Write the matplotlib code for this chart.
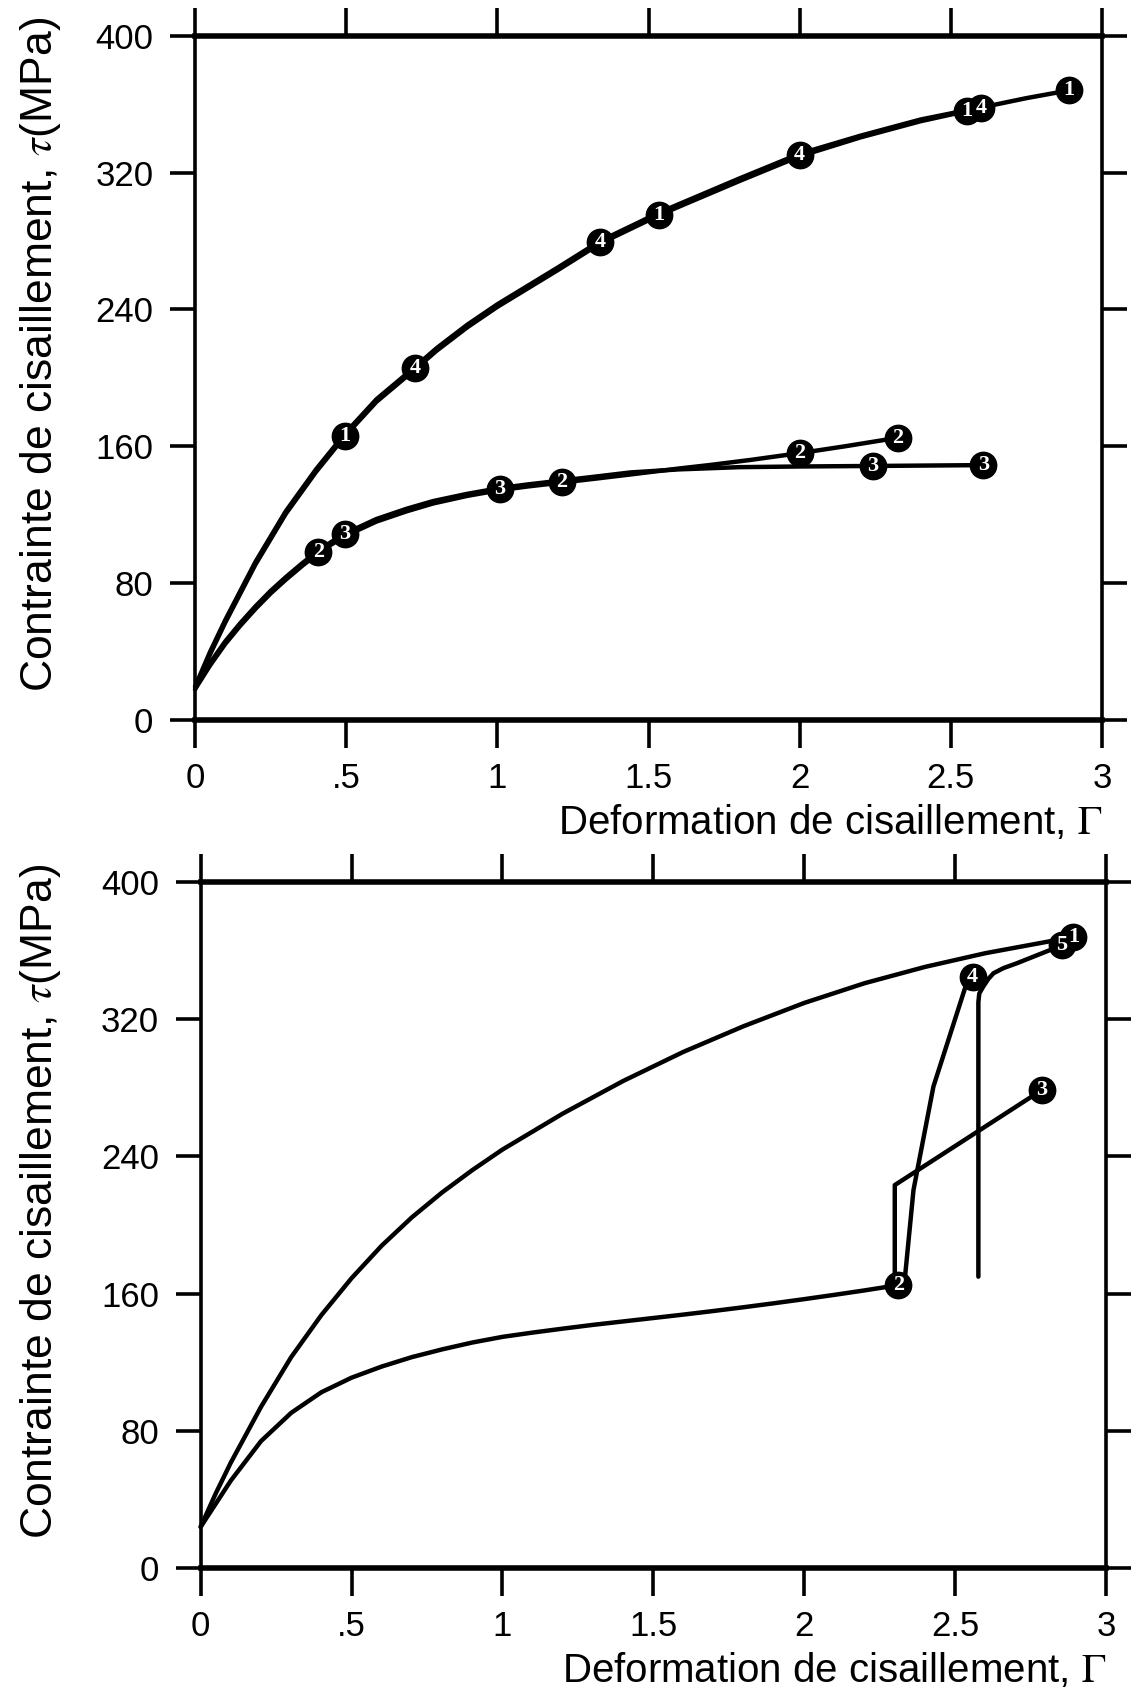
import matplotlib
matplotlib.use("Agg")
import matplotlib.pyplot as plt

plt.rcParams["mathtext.fontset"] = "stix"
plt.rcParams["font.family"] = ["Liberation Sans", "DejaVu Sans"]

# ---- top panel: curves 1..4 -------------------------------------------------------------
top_c1_x = [0, 0.05, 0.1, 0.2, 0.3, 0.4, 0.496, 0.6, 0.728, 0.8, 0.9, 1.0, 1.2, 1.34,
            1.534, 1.6, 1.8, 2.0, 2.2, 2.4, 2.554, 2.6, 2.75, 2.89]
top_c1_y = [18, 38.5, 57, 91, 120.5, 145, 166, 186, 205, 216, 229.5, 241.5, 263, 278.5,
            295, 300, 315, 329.5, 340.5, 350, 356, 358, 363.5, 368]
top_c4_x = [0, 0.05, 0.1, 0.2, 0.3, 0.4, 0.496, 0.6, 0.728, 0.8, 0.9, 1.0, 1.2, 1.34,
            1.534, 1.6, 1.8, 2.0, 2.2, 2.4, 2.554, 2.6]
top_c4_y = [19.5, 40, 58.5, 92.5, 122, 146.5, 167.5, 187.5, 206.5, 217.5, 231, 243, 264.5,
            280, 296.5, 301.5, 316.5, 331, 341.5, 351, 356.5, 358.5]
top_c2_x = [0, 0.05, 0.1, 0.149, 0.2, 0.25, 0.3, 0.357, 0.408, 0.45, 0.496, 0.6, 0.7, 0.788,
            0.9, 1.009, 1.1, 1.213, 1.33, 1.439, 1.6, 1.7, 1.836, 2.0, 2.15, 2.325]
top_c2_y = [18, 32, 44.5, 55, 65, 74, 82, 90.5, 97.5, 102.5, 107.5, 116, 122, 126.6,
            131, 134.4, 136.5, 138.8, 141.2, 143.5, 147, 149, 152, 156, 160, 165]
top_c3_x = [0, 0.05, 0.1, 0.149, 0.2, 0.25, 0.3, 0.357, 0.408, 0.45, 0.496, 0.6, 0.7, 0.788,
            0.9, 1.009, 1.1, 1.213, 1.33, 1.439, 1.6, 1.8, 2.0, 2.243, 2.607]
top_c3_y = [19.5, 33.5, 46, 56.5, 66.5, 75.5, 83.5, 92, 99, 104, 109, 117.5, 123.5, 128,
            132.2, 135.6, 137.7, 140, 142.4, 144.7, 146.5, 147.8, 148.2, 148.5, 149]

top_m1_x = [0.496, 1.534, 2.554, 2.89]
top_m1_y = [166, 295, 356, 368]
top_m4_x = [0.728, 1.34, 2.0, 2.6]
top_m4_y = [206, 279.5, 330, 358]
top_m2_x = [0.408, 1.213, 2.0, 2.325]
top_m2_y = [98.5, 139.4, 156, 165]
top_m3_x = [0.496, 1.009, 2.243, 2.607]
top_m3_y = [108.5, 135, 148.5, 149]

# ---- bottom panel -----------------------------------------------------------------------
bot_c1_x = [0, 0.05, 0.1, 0.2, 0.3, 0.4, 0.5, 0.6, 0.7, 0.8, 0.9, 1.0, 1.2, 1.4, 1.6,
            1.8, 2.0, 2.2, 2.4, 2.6, 2.8, 2.892]
bot_c1_y = [24, 43.5, 61.5, 94, 123, 147.5, 169, 188, 204.5, 219, 232, 244, 265, 284, 301,
            316, 329.5, 341, 350.5, 358.5, 365, 368.1]
bot_c2_x = [0, 0.1, 0.2, 0.3, 0.4, 0.5, 0.6, 0.7, 0.8, 0.9, 1.0, 1.1, 1.2, 1.3, 1.4, 1.5,
            1.6, 1.7, 1.8, 1.9, 2.0, 2.1, 2.2, 2.312]
bot_c2_y = [24, 51, 74, 90.5, 102.5, 111, 117.5, 123, 127.5, 131.5, 134.8, 137.3, 139.6,
            141.8, 143.8, 145.8, 147.8, 149.9, 152.1, 154.4, 156.8, 159.3, 161.9, 165]
bot_c3_x = [2.300, 2.300, 2.787]
bot_c3_y = [166, 223.3, 278.7]
bot_c4_x = [2.312, 2.334, 2.362, 2.428, 2.538, 2.558]
bot_c4_y = [165, 169.9, 220.4, 280.7, 341, 344.8]
bot_c5_x = [2.577, 2.577, 2.58, 2.593, 2.61, 2.627, 2.66, 2.704, 2.814, 2.853]
bot_c5_y = [169.9, 330, 335, 339, 343.5, 346.8, 349.8, 352.6, 360.3, 363.3]

bot_marks = [("1", 2.892, 368.1), ("5", 2.853, 363.3), ("2", 2.312, 165),
             ("3", 2.787, 278.7), ("4", 2.558, 344.8)]

xticks = [0, 0.5, 1, 1.5, 2, 2.5, 3]
xticklabels = ["0", ".5", "1", "1.5", "2", "2.5", "3"]
yticks = [0, 80, 160, 240, 320, 400]

XLAB = r"Deformation de cisaillement, $\Gamma$"
YLAB = r"Contrainte de cisaillement, $\tau$(MPa)"

fig = plt.figure(figsize=(11.42, 16.91), dpi=100)
ax_top = fig.add_axes([0.1708, 0.5742, 0.7942, 0.4047])
ax_bot = fig.add_axes([0.1757, 0.0727, 0.7928, 0.4057])


def style(ax, ylab_x):
    ax.set_xlim(0, 3)
    ax.set_ylim(0, 400)
    ax.set_xticks(xticks)
    ax.set_xticklabels(xticklabels)
    ax.set_yticks(yticks)
    for s in ("top", "bottom"):
        ax.spines[s].set_linewidth(4.0)
    for s in ("left", "right"):
        ax.spines[s].set_linewidth(2.6)
    ax.tick_params(axis="x", which="both", direction="out", top=True, bottom=True,
                   length=20, width=2.6, pad=10, labelsize=25)
    ax.tick_params(axis="y", which="both", direction="out", left=True, right=True,
                   length=18, width=2.6, pad=12, labelsize=25)
    for lab in ax.get_xticklabels() + ax.get_yticklabels():
        lab.set_family(["Liberation Sans Narrow", "Liberation Sans"])
    ax.set_xlabel(XLAB, fontsize=29, ha="right", x=1.0, labelpad=6)
    ax.set_ylabel(YLAB, fontsize=32)
    ax.yaxis.set_label_coords(ylab_x, 0.535)


def marks(ax, xs, ys, label):
    ax.plot(xs, ys, "o", ms=19, mfc="black", mec="black", zorder=4)
    for x, y in zip(xs, ys):
        ax.text(x, y, label, color="white", fontsize=16, fontweight="bold",
                family="Liberation Serif", ha="center", va="center", zorder=5)


lw = 3.2
ax_top.plot(top_c1_x, top_c1_y, color="black", lw=lw, solid_capstyle="round")
ax_top.plot(top_c4_x, top_c4_y, color="black", lw=lw, solid_capstyle="round")
ax_top.plot(top_c2_x, top_c2_y, color="black", lw=lw, solid_capstyle="round")
ax_top.plot(top_c3_x, top_c3_y, color="black", lw=lw, solid_capstyle="round")
marks(ax_top, top_m1_x, top_m1_y, "1")
marks(ax_top, top_m4_x, top_m4_y, "4")
marks(ax_top, top_m2_x, top_m2_y, "2")
marks(ax_top, top_m3_x, top_m3_y, "3")
style(ax_top, -0.146)

for xs, ys in ((bot_c1_x, bot_c1_y), (bot_c2_x, bot_c2_y), (bot_c3_x, bot_c3_y),
               (bot_c4_x, bot_c4_y), (bot_c5_x, bot_c5_y)):
    ax_bot.plot(xs, ys, color="black", lw=lw, solid_capstyle="round")
for lab, x, y in bot_marks:
    marks(ax_bot, [x], [y], lab)
style(ax_bot, -0.152)

for ax in (ax_top, ax_bot):
    for line in ax.lines:
        line.set_clip_on(False)

fig.savefig("out.png", dpi=100)
